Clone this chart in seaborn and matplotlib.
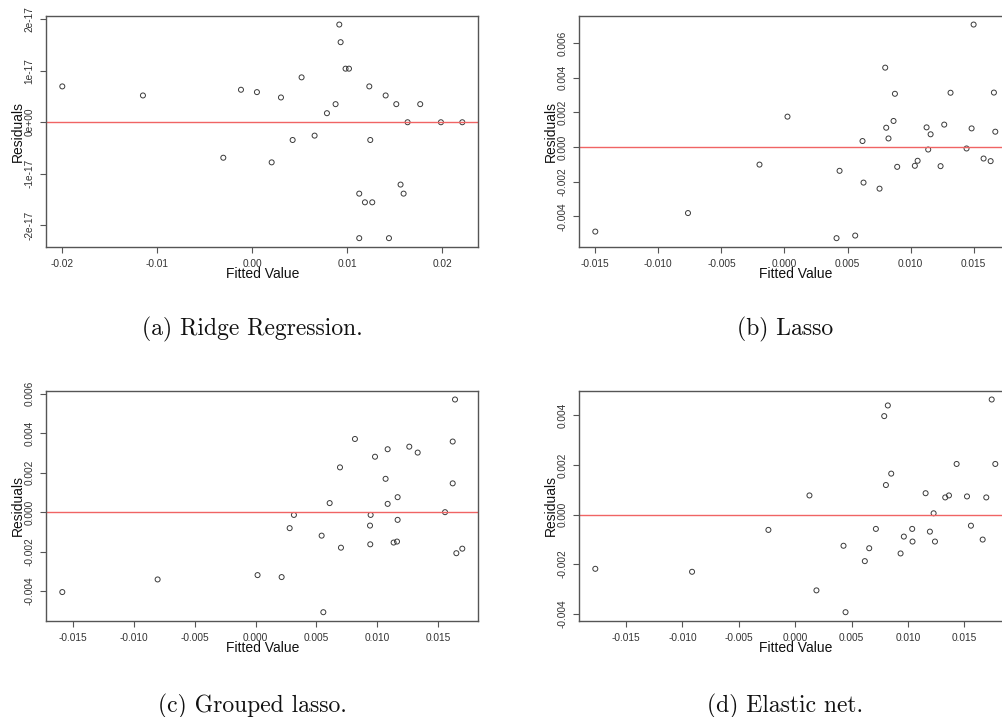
import matplotlib
matplotlib.use("Agg")
import matplotlib.pyplot as plt
import seaborn as sns
import numpy as np
import pandas as pd

# ---------------- data ----------------
ridge_fit = [-0.0200, -0.01151, -0.00305, -0.00119, 0.00049, 0.00204, 0.00302, 0.00425,
             0.00519, 0.00656, 0.00786, 0.00877, 0.00916, 0.00930, 0.00982, 0.01018,
             0.01126, 0.01126, 0.01186, 0.01232, 0.01242, 0.01263, 0.01404, 0.01439,
             0.01516, 0.01561, 0.01593, 0.01635, 0.01768, 0.01986, 0.02211]
ridge_res = [0.697e-17, 0.521e-17, -0.69e-17, 0.632e-17, 0.586e-17, -0.78e-17, 0.482e-17, -0.345e-17,
             0.873e-17, -0.26e-17, 0.176e-17, 0.352e-17, 1.90e-17, 1.557e-17, 1.042e-17, 1.042e-17,
             -1.388e-17, -2.254e-17, -1.557e-17, 0.697e-17, -0.345e-17, -1.557e-17, 0.521e-17, -2.254e-17,
             0.352e-17, -1.212e-17, -1.388e-17, 0.0, 0.352e-17, 0.0, 0.0]

lasso_fit = [-0.0150, -0.00765, -0.00198, 0.00024, 0.00413, 0.00437, 0.00561, 0.00619,
             0.00627, 0.00754, 0.00799, 0.00807, 0.00825, 0.00865, 0.00876, 0.00894,
             0.01034, 0.01056, 0.01127, 0.01140, 0.01159, 0.01238, 0.01267, 0.01317,
             0.01444, 0.01484, 0.01500, 0.01579, 0.01635, 0.01661, 0.01672]
lasso_res = [-0.00488, -0.00381, -0.00101, 0.00176, -0.00526, -0.00137, -0.00511, 0.00035,
             -0.00205, -0.00240, 0.00459, 0.00112, 0.00050, 0.00151, 0.00308, -0.00114,
             -0.00108, -0.00079, 0.00114, -0.00014, 0.00074, -0.00110, 0.00130, 0.00314,
             -0.00008, 0.00108, 0.00708, -0.00066, -0.00081, 0.00315, 0.00089]

glasso_fit = [-0.01590, -0.00806, 0.00016, 0.00214, 0.00280, 0.00315, 0.00543, 0.00557,
              0.00609, 0.00694, 0.00702, 0.00817, 0.00941, 0.00943, 0.00946, 0.00982,
              0.01069, 0.01086, 0.01086, 0.01135, 0.01163, 0.01168, 0.01168, 0.01264,
              0.01333, 0.01558, 0.01621, 0.01621, 0.01640, 0.01651, 0.01700]
glasso_res = [-0.00405, -0.00341, -0.00319, -0.00329, -0.00081, -0.00014, -0.00119, -0.00507,
              0.00046, 0.00227, -0.00180, 0.00371, -0.00068, -0.00163, -0.00014, 0.00281,
              0.00169, 0.00319, 0.00042, -0.00154, -0.00149, 0.00076, -0.00039, 0.00332,
              0.00302, 0.00000, 0.00358, 0.00146, 0.00571, -0.00208, -0.00185]

enet_fit = [-0.01772, -0.00914, -0.00237, 0.00127, 0.00189, 0.00429, 0.00447, 0.00618,
            0.00657, 0.00716, 0.00790, 0.00805, 0.00822, 0.00852, 0.00935, 0.00964,
            0.01038, 0.01041, 0.01157, 0.01195, 0.01228, 0.01240, 0.01331, 0.01364,
            0.01432, 0.01524, 0.01559, 0.01663, 0.01695, 0.01743, 0.01775]
enet_res = [-0.00219, -0.00231, -0.00062, 0.00077, -0.00306, -0.00126, -0.00394, -0.00188,
            -0.00136, -0.00058, 0.00397, 0.00119, 0.00440, 0.00165, -0.00157, -0.00089,
            -0.00058, -0.00109, 0.00086, -0.00069, 0.00005, -0.00109, 0.00069, 0.00077,
            0.00204, 0.00073, -0.00045, -0.00101, 0.00069, 0.00464, 0.00204]

ridge_xticks = [-0.02, -0.01, 0.0, 0.01, 0.02]
ridge_xlabels = ["-0.02", "-0.01", "0.00", "0.01", "0.02"]
ridge_yticks = [-2e-17, -1e-17, 0.0, 1e-17, 2e-17]
ridge_ylabels = ["-2e-17", "-1e-17", "0e+00", "1e-17", "2e-17"]

std_xticks = [-0.015, -0.010, -0.005, 0.0, 0.005, 0.010, 0.015]
std_xlabels = ["-0.015", "-0.010", "-0.005", "0.000", "0.005", "0.010", "0.015"]
lasso_yticks = [-0.004, -0.002, 0.0, 0.002, 0.004, 0.006]
lasso_ylabels = ["-0.004", "-0.002", "0.000", "0.002", "0.004", "0.006"]
enet_yticks = [-0.004, -0.002, 0.0, 0.002, 0.004]
enet_ylabels = ["-0.004", "-0.002", "0.000", "0.002", "0.004"]

captions = ["(a) Ridge Regression.", "(b) Lasso", "(c) Grouped lasso.", "(d) Elastic net."]

# ---------------- style ----------------
sns.set_style("white")
plt.rcParams["font.family"] = ["Liberation Sans", "DejaVu Sans"]

W, H = 1002, 717
fig = plt.figure(figsize=(W / 100, H / 100), dpi=100)

FRAME = "#555555"
TEXT = "#333333"
LINE_RED = "#f06464"


def rect(left, top, right, bottom):
    return [left / W, 1 - bottom / H, (right - left) / W, (bottom - top) / H]


panels = [
    (ridge_fit, ridge_res, ridge_xticks, ridge_xlabels, ridge_yticks, ridge_ylabels,
     rect(46.3, 16, 478.3, 246.7)),
    (lasso_fit, lasso_res, std_xticks, std_xlabels, lasso_yticks, lasso_ylabels,
     rect(579.3, 16, 1011.3, 246.7)),
    (glasso_fit, glasso_res, std_xticks, std_xlabels, lasso_yticks, lasso_ylabels,
     rect(46.3, 391, 478.3, 620.7)),
    (enet_fit, enet_res, std_xticks, std_xlabels, enet_yticks, enet_ylabels,
     rect(579.3, 391, 1011.3, 620.7)),
]

for fit, res, xt, xl, yt, yl, r in panels:
    ax = fig.add_axes(r)
    df = pd.DataFrame({"Fitted Value": fit, "Residuals": res})
    sns.scatterplot(data=df, x="Fitted Value", y="Residuals", ax=ax, marker="o",
                    s=13, color="#3a3a3a", linewidth=0.7, legend=False)
    coll = ax.collections[0]
    coll.set_facecolor("none")
    coll.set_edgecolor("#3a3a3a")
    ax.axhline(0, color=LINE_RED, lw=1.0, zorder=1)

    # R-style 4% axis padding
    xmin, xmax = min(fit), max(fit)
    ymin, ymax = min(res), max(res)
    dx, dy = (xmax - xmin) * 0.04, (ymax - ymin) * 0.04
    ax.set_xlim(xmin - dx, xmax + dx)
    ax.set_ylim(ymin - dy, ymax + dy)

    ax.set_xticks(xt)
    ax.set_xticklabels(xl)
    ax.set_yticks(yt)
    ax.set_yticklabels(yl)
    ax.tick_params(axis="both", direction="out", length=4, width=0.8, color=FRAME,
                   labelsize=7.3, labelcolor=TEXT, pad=4.5)
    ax.tick_params(axis="x", bottom=True)
    ax.tick_params(axis="y", left=True)
    for lab in ax.get_yticklabels():
        lab.set_rotation(90)
        lab.set_va("center")
    for sp in ax.spines.values():
        sp.set_color(FRAME)
        sp.set_linewidth(1.0)

    ax.set_xlabel("Fitted Value", fontsize=10, color="#111111")
    ax.set_ylabel("Residuals", fontsize=10, color="#111111")
    ax.xaxis.set_label_coords(0.5, -0.088)
    ax.yaxis.set_label_coords(-0.05, 0.5)

cap_pos = [(252, 329), (785, 329), (252, 706), (785, 706)]
for (cx, cy), txt in zip(cap_pos, captions):
    fig.text(cx / W, 1 - cy / H, txt, ha="center", va="center",
             family="cmr10", fontsize=17, color="#111111")

fig.savefig("out.png", dpi=100)
